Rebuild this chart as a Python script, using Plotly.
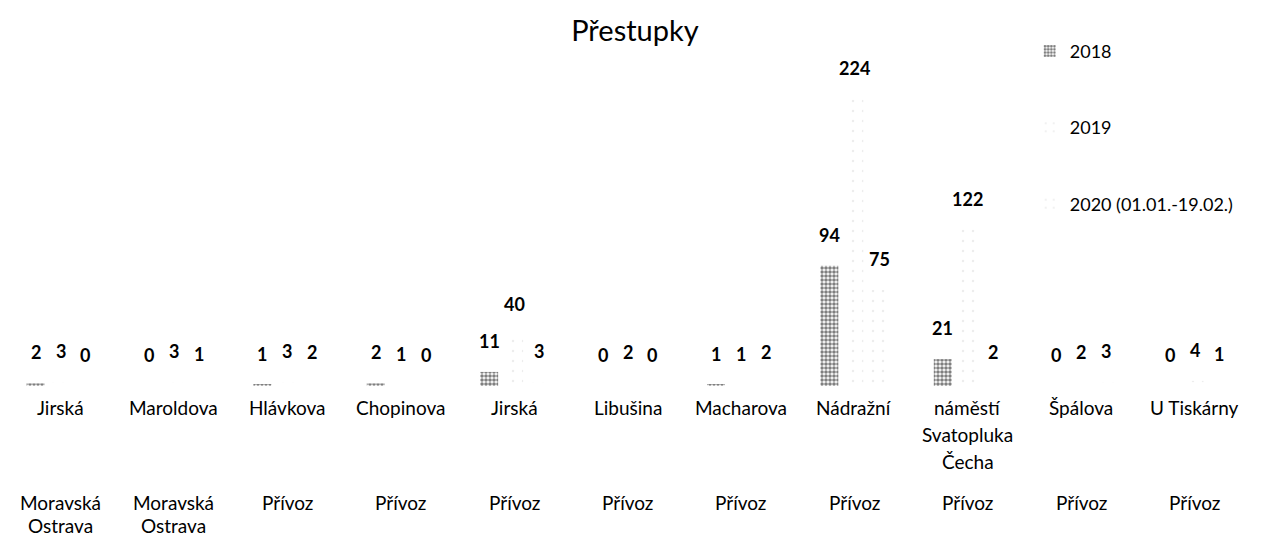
import plotly.graph_objects as go

# ---- data ----
streets = ["Jirská", "Maroldova", "Hlávkova", "Chopinova", "Jirská", "Libušina",
           "Macharova", "Nádražní", "náměstí\nSvatopluka\nČecha", "Špálova", "U Tiskárny"]
districts = ["Moravská\nOstrava", "Moravská\nOstrava", "Přívoz", "Přívoz", "Přívoz", "Přívoz",
             "Přívoz", "Přívoz", "Přívoz", "Přívoz", "Přívoz"]
series_names = ["2018", "2019", "2020 (01.01.-19.02.)"]
v2018 = [2, 0, 1, 2, 11, 0, 1, 94, 21, 0, 0]
v2019 = [3, 3, 3, 1, 40, 2, 1, 224, 122, 2, 4]
v2020 = [0, 1, 2, 0, 3, 0, 2, 75, 2, 3, 1]
series_values = [v2018, v2019, v2020]

# ---- style ----
FONT = "Lato"
BARGAP = 0.34
BARGROUPGAP = 0.28
patterns = [
    dict(shape=".", fgcolor="black", bgcolor="white", size=4, solidity=0.65),
    dict(shape=".", fgcolor="#d9d9d9", bgcolor="white", size=10, solidity=0.05),
    dict(shape=".", fgcolor="#d9d9d9", bgcolor="white", size=10, solidity=0.05),
]

n = len(streets)
x = list(range(n))
fig = go.Figure()
for k, (name, vals) in enumerate(zip(series_names, series_values)):
    fig.add_trace(go.Bar(
        x=x, y=vals, name=name, legendgroup=name,
        marker=dict(color="white", pattern=patterns[k], line=dict(width=0)),
        hoverinfo="skip",
    ))

annotations = []
slot = (1 - BARGAP) / len(series_names)
for k, vals in enumerate(series_values):
    for i, v in enumerate(vals):
        annotations.append(dict(
            x=i + (k - 1) * slot, y=v, xref="x", yref="y", text=str(v),
            showarrow=False, yanchor="bottom", yshift=18,
            font=dict(family=FONT, size=18, color="black", weight="bold"),
        ))

STREET_LINE = 27
DISTRICT_LINE = 23
LABEL_FONT = dict(family=FONT, size=19, color="black")
for i in range(n):
    for j, line in enumerate(streets[i].split("\n")):
        annotations.append(dict(
            x=i, y=0, xref="x", yref="paper", text=line, showarrow=False,
            yanchor="top", yshift=-8 - j * STREET_LINE, font=LABEL_FONT,
        ))
    for j, line in enumerate(districts[i].split("\n")):
        annotations.append(dict(
            x=i, y=0, xref="x", yref="paper", text=line, showarrow=False,
            yanchor="top", yshift=-103 - j * DISTRICT_LINE, font=LABEL_FONT,
        ))

fig.update_layout(
    width=1263, height=539,
    paper_bgcolor="white", plot_bgcolor="white",
    margin=dict(l=0, r=20, t=58, b=161),
    barmode="group", bargap=BARGAP, bargroupgap=BARGROUPGAP,
    title=dict(text="Přestupky", x=0.4964, xref="container", xanchor="center",
               y=0.958, yref="container", yanchor="middle",
               font=dict(family=FONT, size=29, color="black")),
    xaxis=dict(range=[-0.463, 10.498], showticklabels=False, showgrid=False,
               zeroline=False, showline=False, ticks=""),
    yaxis=dict(range=[0, 250], visible=False),
    legend=dict(x=0.822, y=1.104, xanchor="left", yanchor="top",
                font=dict(family=FONT, size=18, color="black"),
                tracegroupgap=50, bgcolor="rgba(0,0,0,0)"),
    annotations=annotations,
    showlegend=True,
)

fig.write_html("out.html")
